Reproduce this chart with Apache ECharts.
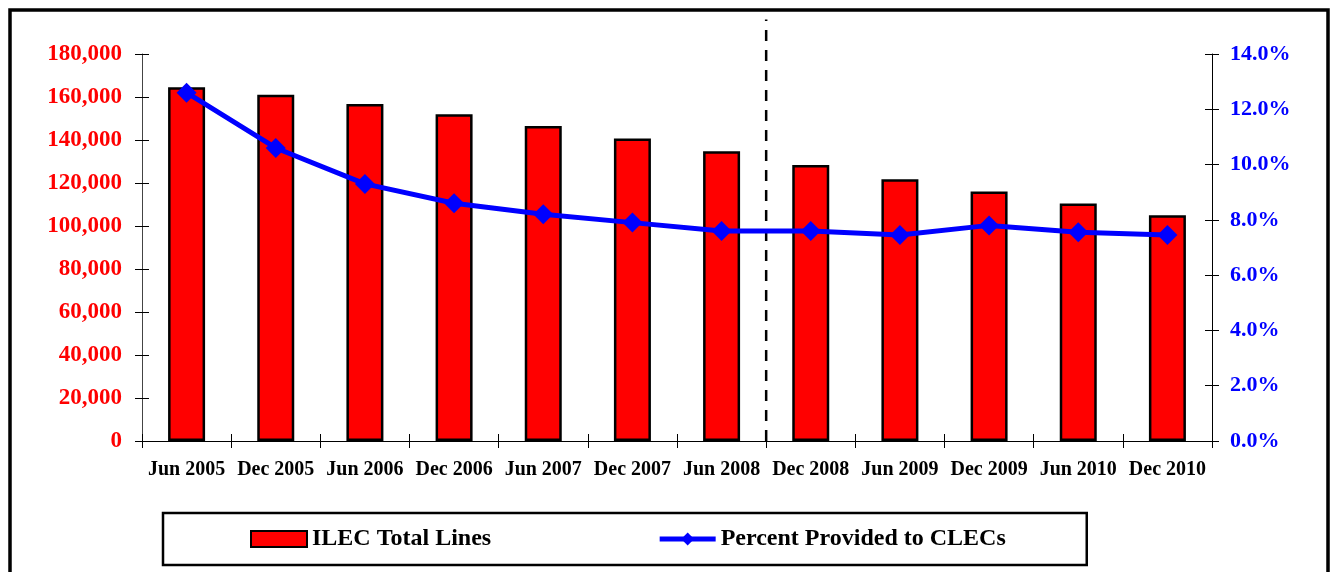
<!DOCTYPE html>
<html>
<head>
<meta charset="utf-8">
<script src="https://cdn.jsdelivr.net/npm/echarts@6/dist/echarts.min.js"></script>
<style>
  html, body { margin: 0; padding: 0; background: #fff; }
  #chart { width: 1332px; height: 572px; }
</style>
</head>
<body>
<div id="chart"></div>
<script>
const categories = ['Jun 2005', 'Dec 2005', 'Jun 2006', 'Dec 2006', 'Jun 2007', 'Dec 2007',
  'Jun 2008', 'Dec 2008', 'Jun 2009', 'Dec 2009', 'Jun 2010', 'Dec 2010']
const totalLines = [164500, 161000, 156800, 152000, 146500, 140700,
  134800, 128400, 121800, 116000, 110500, 105000]
const percentClec = [12.6, 10.6, 9.3, 8.6, 8.2, 7.9, 7.6, 7.6, 7.45, 7.8, 7.55, 7.45]
// dashed divider sits on the boundary between Jun 2008 and Dec 2008
const dividerAt = 7

const FONT = "'Liberation Serif', 'Times New Roman', serif"

const chart = echarts.init(document.getElementById('chart'))

// no-label copies of the axes, shifted inward, so the ticks cross the axis line
const crossTicks = (pos, min, max, interval) => ({
  type: 'value',
  position: pos,
  offset: -7,
  min, max, interval,
  axisLine: { show: false },
  axisLabel: { show: false },
  axisTick: { show: true, length: 14, lineStyle: { color: '#000', width: 1 } },
  splitLine: { show: false },
})

chart.setOption({
  backgroundColor: '#fff',
  animation: false,
  graphic: [{
    type: 'rect',
    silent: true,
    z: -1,
    shape: { x: 10, y: 10, width: 1318, height: 620 },
    style: { fill: 'none', stroke: '#000', lineWidth: 3.5 },
  }],
  grid: { left: 142, right: 120, top: 54, bottom: 131 },
  legend: {
    data: [
      { name: 'ILEC Total Lines', icon: 'rect' },
      { name: 'Percent Provided to CLECs', lineStyle: { width: 5 } },
    ],
    left: 163,
    top: 513,
    padding: [14, 81, 14, 87],
    borderColor: '#000',
    borderWidth: 2.5,
    itemWidth: 56,
    itemHeight: 16,
    itemGap: 166,
    textStyle: { fontFamily: FONT, fontWeight: 'bold', fontSize: 24, color: '#000' },
  },
  xAxis: [
    {
      type: 'category',
      data: categories,
      position: 'bottom',
      axisLine: { lineStyle: { color: '#000', width: 1 } },
      axisTick: { show: false },
      axisLabel: {
        margin: 19,
        interval: 0,
        fontFamily: FONT, fontWeight: 'bold', fontSize: 20, color: '#000',
      },
    },
    {
      type: 'category',
      data: categories,
      position: 'bottom',
      offset: -7,
      axisLine: { show: false },
      axisLabel: { show: false },
      axisTick: { show: true, length: 14, lineStyle: { color: '#000' } },
    },
    { type: 'value', min: 0, max: categories.length, show: false },
  ],
  yAxis: [
    {
      type: 'value',
      position: 'left',
      min: 0, max: 180000, interval: 20000,
      axisLine: { show: true, lineStyle: { color: '#444', width: 1 } },
      axisTick: { show: false },
      splitLine: { show: false },
      axisLabel: {
        margin: 20,
        fontFamily: FONT, fontWeight: 'bold', fontSize: 23, color: '#FF0000',
        formatter: (v) => v.toLocaleString('en-US'),
      },
    },
    {
      type: 'value',
      position: 'right',
      min: 0, max: 14, interval: 2,
      axisLine: { show: true, lineStyle: { color: '#000', width: 1 } },
      axisTick: { show: false },
      splitLine: { show: false },
      axisLabel: {
        margin: 18,
        fontFamily: FONT, fontWeight: 'bold', fontSize: 22, color: '#0000FF',
        formatter: (v) => v.toFixed(1) + '%',
      },
    },
    crossTicks('left', 0, 180000, 20000),
    crossTicks('right', 0, 14, 2),
  ],
  series: [
    {
      name: 'ILEC Total Lines',
      type: 'bar',
      data: totalLines,
      barWidth: 37,
      itemStyle: { color: '#FF0000', borderColor: '#000', borderWidth: 2.5 },
      z: 2,
    },
    {
      name: 'divider',
      type: 'line',
      xAxisIndex: 2,
      yAxisIndex: 0,
      data: [[dividerAt, 0], [dividerAt, 196000]],
      clip: false,
      silent: true,
      symbol: 'none',
      lineStyle: { color: '#000', width: 2.5, type: [11, 9] },
      z: 3,
    },
    {
      name: 'Percent Provided to CLECs',
      type: 'line',
      yAxisIndex: 1,
      data: percentClec,
      symbol: 'diamond',
      symbolSize: 20,
      color: '#0000FF',
      lineStyle: { color: '#0000FF', width: 5 },
      itemStyle: { color: '#0000FF' },
      z: 4,
    },
  ],
})
</script>
</body>
</html>
